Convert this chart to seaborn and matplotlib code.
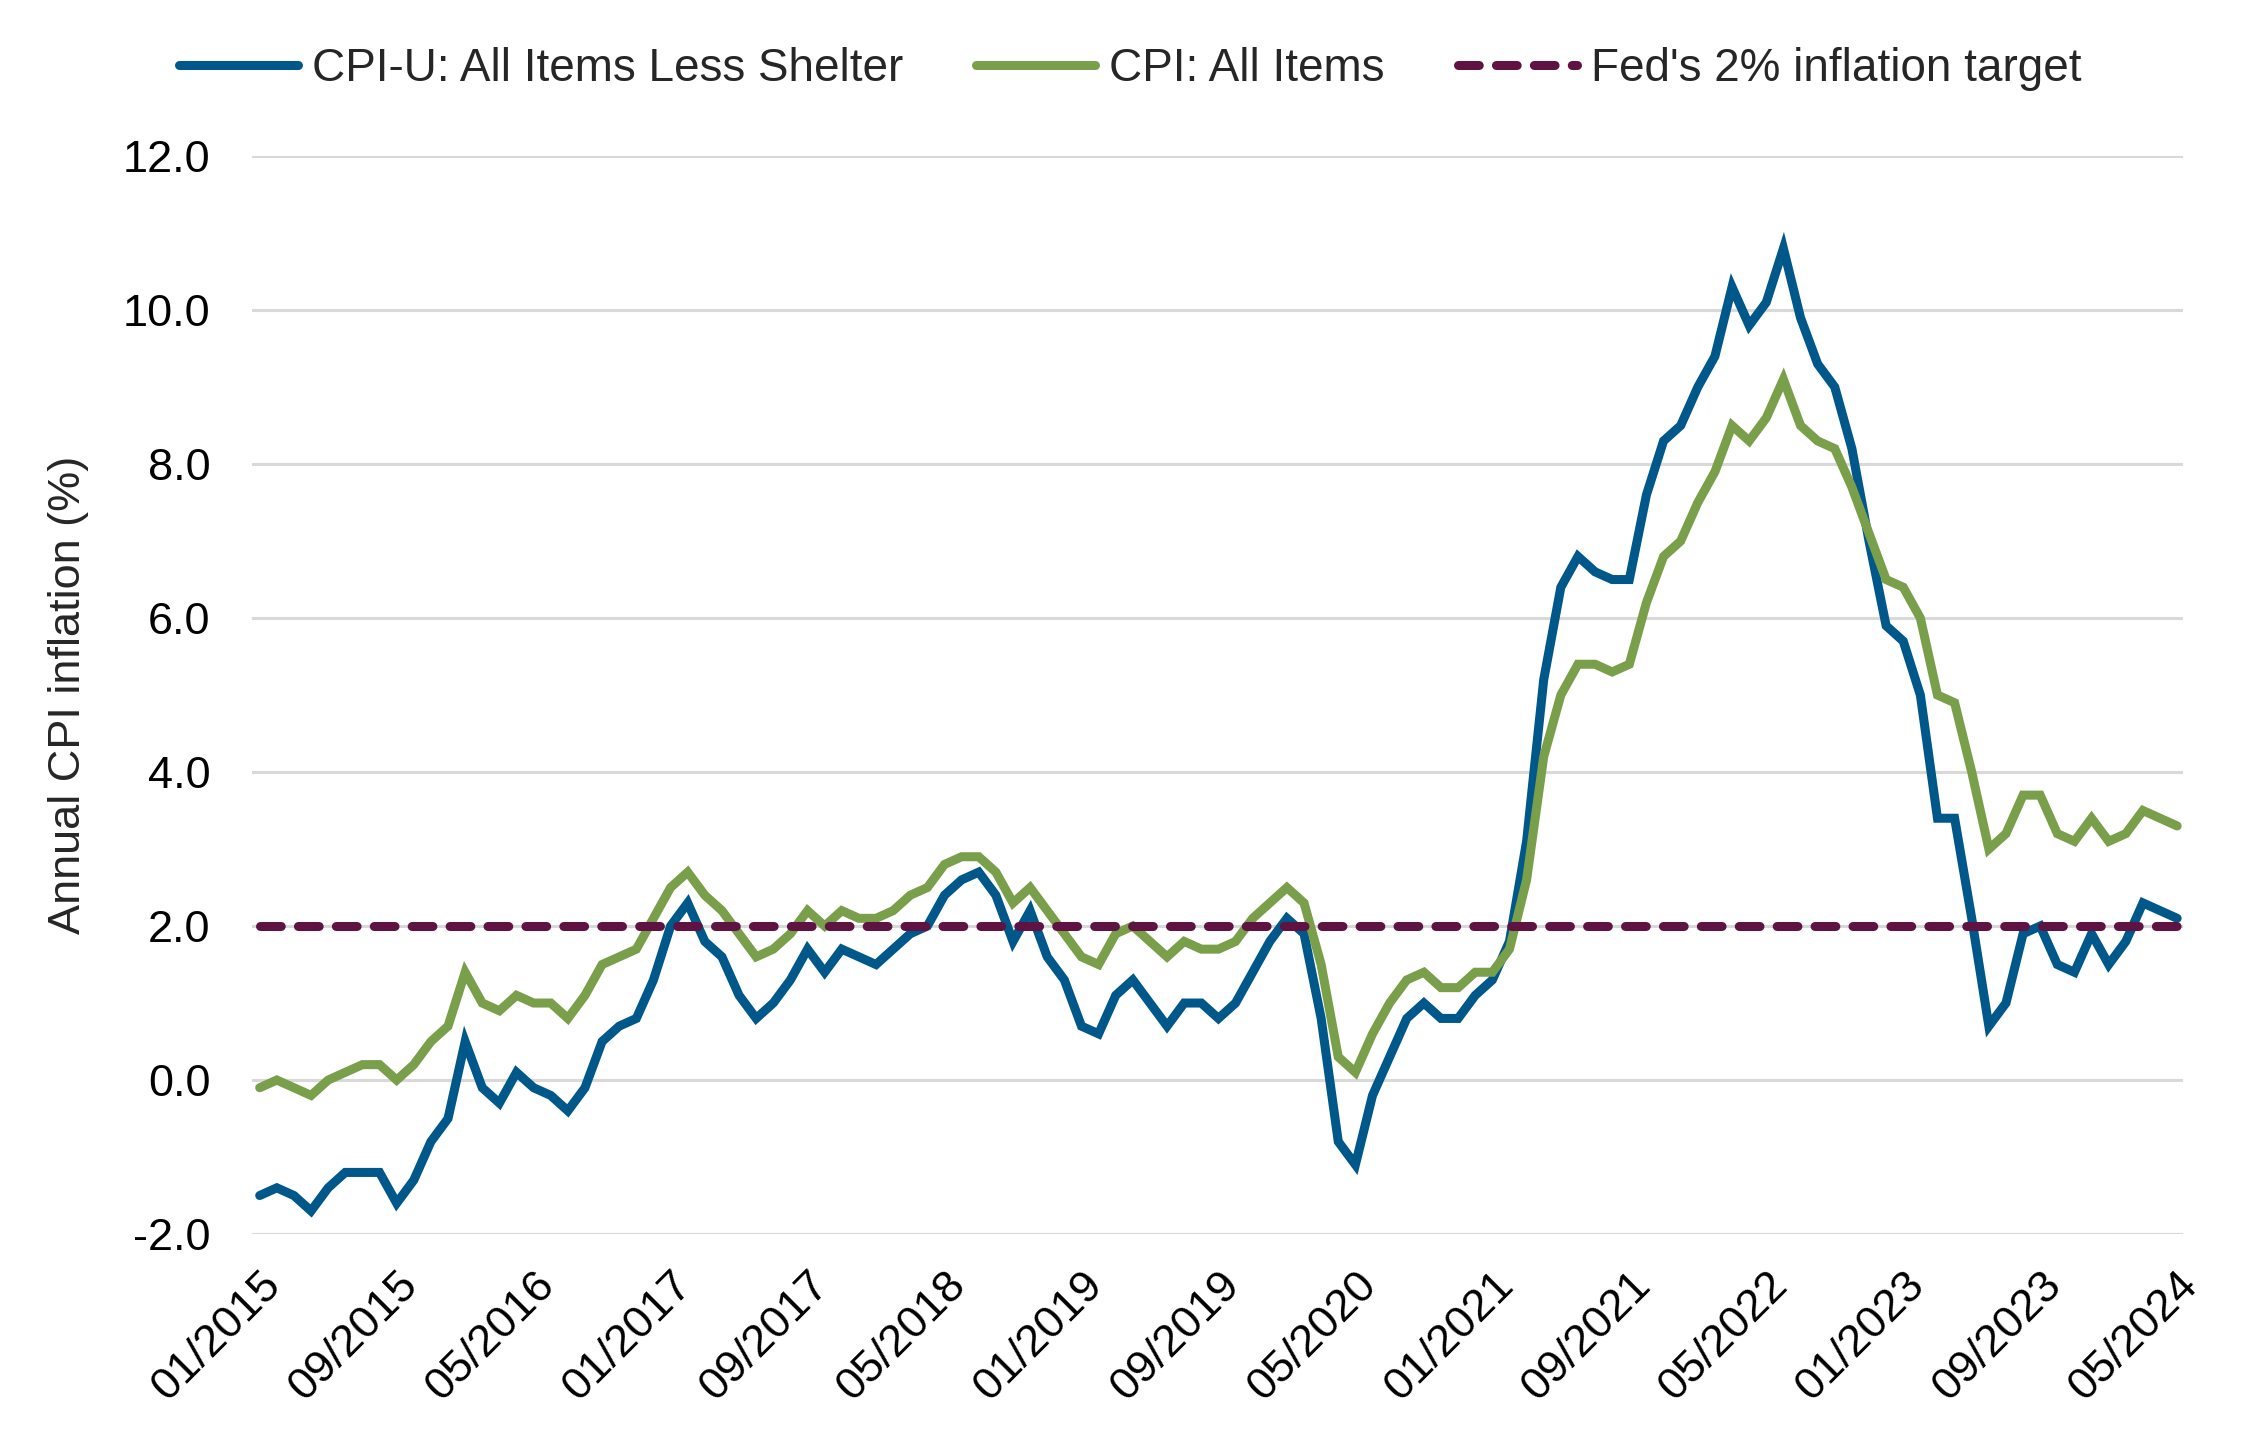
import numpy as np
import pandas as pd
import matplotlib
matplotlib.use("Agg")
import matplotlib.pyplot as plt
from matplotlib.ticker import FormatStrFormatter
import seaborn as sns

# Annual inflation, monthly, 01/2015 .. 05/2024
cpi_less_shelter = [
    -1.5, -1.4, -1.5, -1.7, -1.4, -1.2, -1.2, -1.2, -1.6, -1.3, -0.8, -0.5,  # 2015
    0.5, -0.1, -0.3, 0.1, -0.1, -0.2, -0.4, -0.1, 0.5, 0.7, 0.8, 1.3,        # 2016
    2.0, 2.3, 1.8, 1.6, 1.1, 0.8, 1.0, 1.3, 1.7, 1.4, 1.7, 1.6,              # 2017
    1.5, 1.7, 1.9, 2.0, 2.4, 2.6, 2.7, 2.4, 1.8, 2.2, 1.6, 1.3,              # 2018
    0.7, 0.6, 1.1, 1.3, 1.0, 0.7, 1.0, 1.0, 0.8, 1.0, 1.4, 1.8,              # 2019
    2.1, 1.9, 0.8, -0.8, -1.1, -0.2, 0.3, 0.8, 1.0, 0.8, 0.8, 1.1,           # 2020
    1.3, 1.8, 3.1, 5.2, 6.4, 6.8, 6.6, 6.5, 6.5, 7.6, 8.3, 8.5,              # 2021
    9.0, 9.4, 10.3, 9.8, 10.1, 10.8, 9.9, 9.3, 9.0, 8.2, 7.0, 5.9,           # 2022
    5.7, 5.0, 3.4, 3.4, 2.1, 0.7, 1.0, 1.9, 2.0, 1.5, 1.4, 1.9,              # 2023
    1.5, 1.8, 2.3, 2.2, 2.1,                                                 # 2024
]
cpi_all_items = [
    -0.1, 0.0, -0.1, -0.2, 0.0, 0.1, 0.2, 0.2, 0.0, 0.2, 0.5, 0.7,           # 2015
    1.4, 1.0, 0.9, 1.1, 1.0, 1.0, 0.8, 1.1, 1.5, 1.6, 1.7, 2.1,              # 2016
    2.5, 2.7, 2.4, 2.2, 1.9, 1.6, 1.7, 1.9, 2.2, 2.0, 2.2, 2.1,              # 2017
    2.1, 2.2, 2.4, 2.5, 2.8, 2.9, 2.9, 2.7, 2.3, 2.5, 2.2, 1.9,              # 2018
    1.6, 1.5, 1.9, 2.0, 1.8, 1.6, 1.8, 1.7, 1.7, 1.8, 2.1, 2.3,              # 2019
    2.5, 2.3, 1.5, 0.3, 0.1, 0.6, 1.0, 1.3, 1.4, 1.2, 1.2, 1.4,              # 2020
    1.4, 1.7, 2.6, 4.2, 5.0, 5.4, 5.4, 5.3, 5.4, 6.2, 6.8, 7.0,              # 2021
    7.5, 7.9, 8.5, 8.3, 8.6, 9.1, 8.5, 8.3, 8.2, 7.7, 7.1, 6.5,              # 2022
    6.4, 6.0, 5.0, 4.9, 4.0, 3.0, 3.2, 3.7, 3.7, 3.2, 3.1, 3.4,              # 2023
    3.1, 3.2, 3.5, 3.4, 3.3,                                                 # 2024
]
fed_target = 2.0

tick_labels = ['01/2015', '09/2015', '05/2016', '01/2017', '09/2017', '05/2018',
               '01/2019', '09/2019', '05/2020', '01/2021', '09/2021', '05/2022',
               '01/2023', '09/2023', '05/2024']
tick_step = 8  # months between labels

BLUE = '#00578A'
GREEN = '#7A9F4A'
MAROON = '#5F1343'
GRID = '#D9D9D9'

sns.set_style("white")
plt.rcParams['font.family'] = ['Liberation Sans', 'DejaVu Sans']
plt.rcParams['axes.unicode_minus'] = False

df = pd.DataFrame({
    'month': np.arange(len(cpi_all_items)),
    'less_shelter': cpi_less_shelter,
    'all_items': cpi_all_items,
})
df['target'] = fed_target

fig = plt.figure(figsize=(22.6, 14.45), dpi=100)
ax = fig.add_axes([0.1115, 0.146, 0.8545, 0.746])

LW = 6.5
sns.lineplot(data=df, x='month', y='less_shelter', ax=ax, color=BLUE,
             label='CPI-U: All Items Less Shelter')
sns.lineplot(data=df, x='month', y='all_items', ax=ax, color=GREEN,
             label='CPI: All Items')
sns.lineplot(data=df, x='month', y='target', ax=ax, color=MAROON,
             label="Fed's 2% inflation target")

# make the line styling explicit on the drawn artists
blue_line, green_line, target_line = ax.get_lines()[:3]
for ln in (blue_line, green_line):
    ln.set_linewidth(LW)
    ln.set_solid_capstyle('round')
    ln.set_solid_joinstyle('miter')
target_line.set_linewidth(LW)
target_line.set_linestyle((0, (2.3, 1.9)))
target_line.set_dash_capstyle('round')

ax.set_xlim(-0.45, len(cpi_all_items) - 1 + 0.35)
ax.set_ylim(-2, 12)
ax.set_yticks(np.arange(-2, 12.1, 2))
ax.yaxis.set_major_formatter(FormatStrFormatter('%.1f'))
ax.set_xticks(np.arange(0, len(cpi_all_items), tick_step))
ax.set_xticklabels(tick_labels, rotation=45, ha='right', rotation_mode='anchor')

ax.grid(axis='y', color=GRID, lw=2.2)
ax.set_axisbelow(True)
for s in ax.spines.values():
    s.set_visible(False)
ax.tick_params(axis='both', length=0, labelsize=32.5, colors='black')
ax.tick_params(axis='y', pad=30)
ax.tick_params(axis='x', pad=22)

ax.set_xlabel('')
ax.set_ylabel('Annual CPI inflation (%)', fontsize=32.5, labelpad=24)

ax.legend_.remove()
fig.legend([blue_line, green_line, target_line],
           ['CPI-U: All Items Less Shelter', 'CPI: All Items', "Fed's 2% inflation target"],
           loc='center', bbox_to_anchor=(0.5, 0.952), ncol=3,
           frameon=False, fontsize=33, handlelength=2.6, handletextpad=0.3,
           columnspacing=1.6)

fig.savefig('out.png', dpi=100)
